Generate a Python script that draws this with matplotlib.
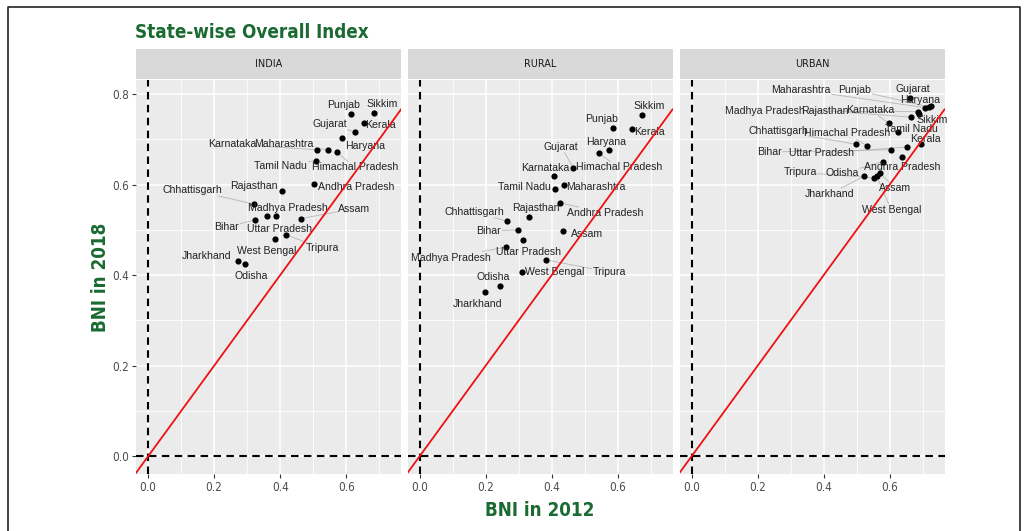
import numpy as np
import matplotlib
matplotlib.use("Agg")
import matplotlib.pyplot as plt
from matplotlib import font_manager

# fonts: a condensed face for headings/ticks if there is one, regular face for the state labels
_fonts = font_manager.fontManager.ttflist
_names = {f.name for f in _fonts}
REGULAR = "Liberation Sans" if "Liberation Sans" in _names else "DejaVu Sans"
if "Liberation Sans Narrow" in _names:
    NARROW, STRETCH, SHRINK, HEAD = "Liberation Sans Narrow", "normal", 1.0, 16
elif any(f.name == "DejaVu Sans" and f.stretch == "condensed" for f in _fonts):
    NARROW, STRETCH, SHRINK, HEAD = "DejaVu Sans", "condensed", 0.88, 13.5
else:
    NARROW, STRETCH, SHRINK, HEAD = REGULAR, "normal", 0.84, 12.8

GREEN = "#1b6a32"

# ---- data: BNI in 2012 (x) and 2018 (y) ----
states = ["Punjab", "Sikkim", "Kerala", "Gujarat", "Haryana", "Karnataka",
          "Maharashtra", "Tamil Nadu", "Himachal Pradesh", "Andhra Pradesh",
          "Rajasthan", "Chhattisgarh", "Madhya Pradesh", "Uttar Pradesh",
          "Bihar", "Assam", "Tripura", "West Bengal", "Jharkhand", "Odisha"]

india_2012 = [0.615, 0.684, 0.655, 0.628, 0.588, 0.512, 0.544, 0.509, 0.571, 0.504,
              0.405, 0.321, 0.359, 0.386, 0.325, 0.463, 0.419, 0.383, 0.272, 0.293]
india_2018 = [0.756, 0.758, 0.737, 0.716, 0.703, 0.677, 0.677, 0.653, 0.672, 0.601,
              0.585, 0.557, 0.531, 0.530, 0.522, 0.525, 0.489, 0.480, 0.432, 0.425]

rural_2012 = [0.587, 0.674, 0.642, 0.466, 0.575, 0.408, 0.437, 0.410, 0.543, 0.425,
              0.330, 0.264, 0.261, 0.312, 0.299, 0.434, 0.382, 0.310, 0.197, 0.243]
rural_2018 = [0.725, 0.754, 0.722, 0.636, 0.676, 0.618, 0.599, 0.591, 0.669, 0.560,
              0.529, 0.519, 0.462, 0.478, 0.500, 0.497, 0.434, 0.408, 0.362, 0.376]

urban_2012 = [0.718, 0.689, 0.695, 0.662, 0.726, 0.597, 0.708, 0.625, 0.531, 0.637,
              0.665, 0.498, 0.687, 0.651, 0.605, 0.571, 0.551, 0.561, 0.521, 0.581]
urban_2018 = [0.772, 0.756, 0.689, 0.791, 0.774, 0.736, 0.770, 0.717, 0.686, 0.662,
              0.749, 0.689, 0.761, 0.683, 0.677, 0.625, 0.615, 0.618, 0.618, 0.651]

# ---- where each state name sits (repelled label positions, data units) ----
india_lab_x = [0.592, 0.710, 0.703, 0.549, 0.656, 0.255, 0.412, 0.402, 0.627, 0.630,
               0.321, 0.134, 0.422, 0.398, 0.238, 0.624, 0.528, 0.360, 0.176, 0.311]
india_lab_y = [0.776, 0.778, 0.732, 0.733, 0.686, 0.689, 0.689, 0.642, 0.638, 0.594,
               0.596, 0.588, 0.549, 0.503, 0.507, 0.547, 0.459, 0.454, 0.443, 0.398]

rural_lab_x = [0.552, 0.695, 0.695, 0.429, 0.564, 0.380, 0.535, 0.319, 0.604, 0.561,
               0.352, 0.165, 0.094, 0.329, 0.210, 0.506, 0.574, 0.409, 0.175, 0.222]
rural_lab_y = [0.744, 0.774, 0.716, 0.684, 0.695, 0.637, 0.594, 0.594, 0.638, 0.537,
               0.549, 0.540, 0.439, 0.451, 0.498, 0.491, 0.407, 0.406, 0.337, 0.396]

urban_lab_x = [0.495, 0.728, 0.708, 0.670, 0.692, 0.540, 0.332, 0.667, 0.470, 0.637,
               0.405, 0.262, 0.222, 0.394, 0.235, 0.617, 0.329, 0.605, 0.418, 0.457]
urban_lab_y = [0.809, 0.743, 0.700, 0.811, 0.787, 0.765, 0.809, 0.722, 0.713, 0.638,
               0.763, 0.719, 0.763, 0.669, 0.672, 0.592, 0.627, 0.544, 0.579, 0.625]

panels = [
    ("INDIA", india_2012, india_2018, india_lab_x, india_lab_y),
    ("RURAL", rural_2012, rural_2018, rural_lab_x, rural_lab_y),
    ("URBAN", urban_2012, urban_2018, urban_lab_x, urban_lab_y),
]

W, H = 1024, 531
fig = plt.figure(figsize=(W / 100, H / 100), dpi=100)

# frame round the whole figure
fig.add_artist(plt.Line2D([8 / W, 8 / W, 1020 / W, 1020 / W], [0, 1 - 7 / H, 1 - 7 / H, 0],
                          transform=fig.transFigure, color="#222222", lw=1.2))

px_left = [136.0, 407.5, 679.5]
px_w = 265.0
px_top, px_bot = 80.0, 474.3
strip_top = 49.0

xlim = (-0.0365, 0.766)
ylim = (-0.0396, 0.831)

axes = []
for i, (name, x, y, lx, ly) in enumerate(panels):
    ax = fig.add_axes([px_left[i] / W, (H - px_bot) / H, px_w / W, (px_bot - px_top) / H])
    ax.set_facecolor("#EBEBEB")
    ax.set_xlim(*xlim)
    ax.set_ylim(*ylim)
    for s in ax.spines.values():
        s.set_visible(False)

    ax.set_xticks([0.0, 0.2, 0.4, 0.6])
    ax.set_xticks([0.1, 0.3, 0.5, 0.7], minor=True)
    ax.set_yticks([0.0, 0.2, 0.4, 0.6, 0.8])
    ax.set_yticks([0.1, 0.3, 0.5, 0.7], minor=True)
    ax.grid(which="major", color="white", lw=1.1)
    ax.grid(which="minor", color="white", lw=0.55)
    ax.set_axisbelow(True)
    ax.tick_params(which="minor", length=0)
    ax.tick_params(which="major", length=3, width=0.8, color="#333333",
                   labelsize=9.5 * SHRINK, labelcolor="#4D4D4D", pad=2)
    for lab in ax.get_xticklabels() + ax.get_yticklabels():
        lab.set_family(NARROW)
        lab.set_stretch(STRETCH)
    if i > 0:
        ax.tick_params(axis="y", left=False, labelleft=False)

    ax.scatter(x, y, s=20, color="black", zorder=3, linewidths=0)
    texts = []
    for s_name, tx, ty in zip(states, lx, ly):
        t = ax.text(tx, ty, s_name, ha="center", va="center", fontsize=7.6,
                    family=REGULAR, color="#222222", zorder=4)
        texts.append(t)

    ax.axhline(0, color="black", lw=1.5, ls=(0, (3.6, 2.6)), zorder=5)
    ax.axvline(0, color="black", lw=1.5, ls=(0, (3.6, 2.6)), zorder=5)
    ax.axline((0, 0), slope=1, color="#ee1111", lw=1.3, zorder=6)

    # strip on top of the panel
    sax = fig.add_axes([px_left[i] / W, (H - px_top + 1) / H, px_w / W, (px_top - 1 - strip_top) / H])
    sax.set_facecolor("#D9D9D9")
    sax.set_xticks([]); sax.set_yticks([])
    for s in sax.spines.values():
        s.set_visible(False)
    sax.text(0.5, 0.5, name, ha="center", va="center", fontsize=8.8 * SHRINK,
             family=NARROW, stretch=STRETCH, color="#1A1A1A", transform=sax.transAxes)

    axes.append((ax, x, y, texts))

# leader segments from each point to the edge of its label box
fig.canvas.draw()
renderer = fig.canvas.get_renderer()
for ax, x, y, texts in axes:
    inv = ax.transData.inverted()
    for px, py, t in zip(x, y, texts):
        bb = t.get_window_extent(renderer)
        p = np.array(ax.transData.transform((px, py)))
        c = np.array([(bb.x0 + bb.x1) / 2, (bb.y0 + bb.y1) / 2])
        hw, hh = bb.width / 2 + 1, bb.height / 2 + 1
        d = p - c
        if abs(d[0]) <= hw and abs(d[1]) <= hh:
            continue
        k = min(hw / abs(d[0]) if d[0] else np.inf, hh / abs(d[1]) if d[1] else np.inf)
        e = c + d * k
        if np.hypot(*(p - e)) < 7:
            continue
        q = p - (p - e) / np.hypot(*(p - e)) * 2.5
        a, b = inv.transform([e, q])
        ax.plot([a[0], b[0]], [a[1], b[1]], color="#b5b5b5", lw=0.6, zorder=2)

head = dict(fontsize=HEAD, fontweight="bold", family=NARROW, stretch=STRETCH, color=GREEN)
fig.text(135 / W, 1 - 32 / H, "State-wise Overall Index", ha="left", va="center", **head)
fig.text(540 / W, 1 - 510 / H, "BNI in 2012", ha="center", va="center", **head)
fig.text(100 / W, 1 - 277 / H, "BNI in 2018", ha="center", va="center", rotation=90, **head)

fig.savefig("out.png", dpi=100, facecolor="white")
